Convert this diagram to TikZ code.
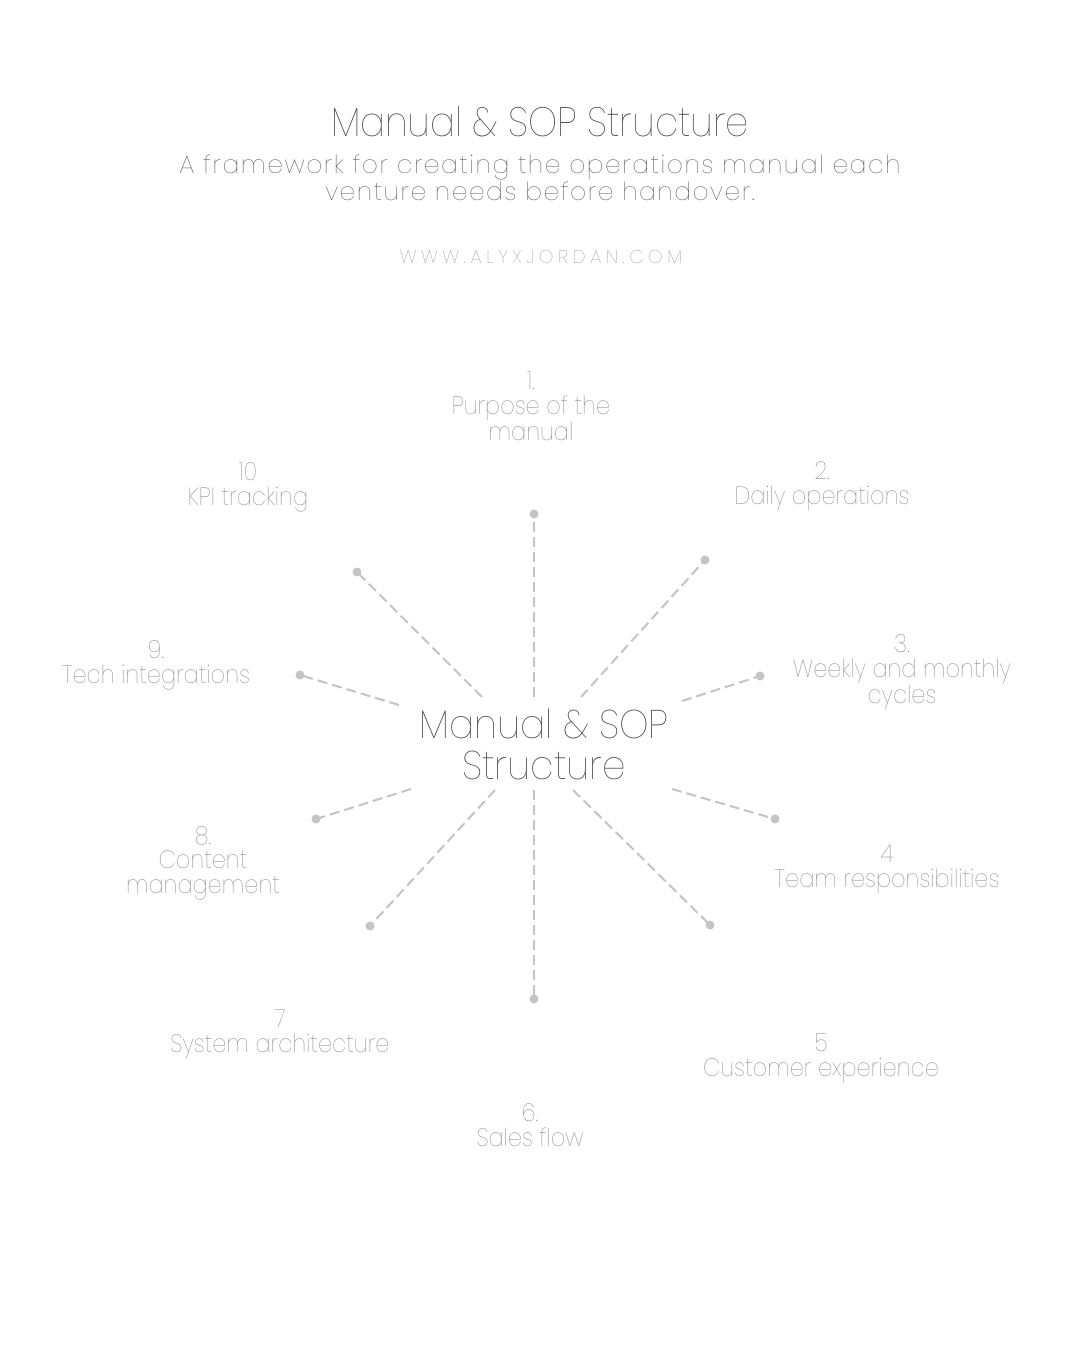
\documentclass[tikz,border=0pt]{standalone}
\usepackage{fontspec}
\newfontfamily\pthin{Poppins Thin}[FakeStretch=0.9]
\newfontfamily\pcentre{Poppins Thin}[FakeStretch=0.935]
\newfontfamily\pthinsp{Poppins Thin}[LetterSpace=6]
\newfontfamily\pthinurl{Poppins Thin}[LetterSpace=25]
\definecolor{titlec}{HTML}{3A3A3A}
\definecolor{subc}{HTML}{444444}
\definecolor{urlc}{HTML}{888888}
\definecolor{labc}{HTML}{787878}
\definecolor{linec}{HTML}{C4C4C4}
\begin{document}
\begin{tikzpicture}[x=1pt,y=-1pt,
  lab/.style={font=\pthin\fontsize{25}{24.5}\selectfont, text=labc, align=center, inner sep=0pt, anchor=base},
  spoke/.style={draw=linec, line width=2pt, dash pattern=on 10pt off 5pt},
  enddot/.style={circle, fill=linec, inner sep=0pt, minimum size=9pt}]
\fill[white] (0,0) rectangle (1080,1350);
\useasboundingbox (0,0) rectangle (1080,1350);
% header
\node[font=\pthin\fontsize{41}{41}\selectfont, text=titlec, inner sep=0pt, anchor=base] (title) at (540,136) {Manual \& SOP Structure};
\node[font=\pthinsp\fontsize{25}{25}\selectfont, text=subc, inner sep=0pt, anchor=base, align=center] (sub) at (540,200) {A framework for creating the operations manual each\\venture needs before handover.};
\node[font=\pthinurl\fontsize{18.5}{18.5}\selectfont, text=urlc, inner sep=0pt, anchor=base] (url) at (541,263) {WWW.ALYXJORDAN.COM};
% centre
\node[font=\pcentre\fontsize{40}{41}\selectfont, text=titlec, align=center, inner sep=0pt, anchor=base] (centre) at (544,779) {Manual \& SOP\\Structure};
% spoke ends
\coordinate (e1) at (534,697);  \node[enddot] (d1) at (534,514) {};
\coordinate (e2) at (581,697);  \node[enddot] (d2) at (705,560) {};
\coordinate (e3) at (682,701);  \node[enddot] (d3) at (760,676) {};
\coordinate (e4) at (672,789);  \node[enddot] (d4) at (775,819) {};
\coordinate (e5) at (573,790);  \node[enddot] (d5) at (710,925) {};
\coordinate (e6) at (534,790);  \node[enddot] (d6) at (534,999) {};
\coordinate (e7) at (495,790);  \node[enddot] (d7) at (370,926) {};
\coordinate (e8) at (411,789);  \node[enddot] (d8) at (316,819) {};
\coordinate (e9) at (399,705);  \node[enddot] (d9) at (300,675) {};
\coordinate (e10) at (482,697); \node[enddot] (d10) at (357,572) {};
\foreach \i in {1,...,10} {\draw[spoke] (e\i) -- (d\i.center);}
% labels
\node[lab] (l1) at (531,440) {1.\\Purpose of the\\manual};
\node[lab] (l2) at (822,504) {2.\\Daily operations};
\node[lab] (l3) at (902,703) {3.\\Weekly and monthly\\cycles};
\node[lab] (l4) at (887,887) {4\\Team responsibilities};
\node[lab] (l5) at (821,1076) {5\\Customer experience};
\node[lab] (l6) at (530,1146) {6.\\Sales flow};
\node[lab] (l7) at (280,1052) {7\\System architecture};
\node[lab] (l8) at (203,893) {8.\\Content\\management};
\node[lab] (l9) at (156,683) {9.\\Tech integrations};
\node[lab] (l10) at (248,505) {10\\KPI tracking};
\end{tikzpicture}
\end{document}
